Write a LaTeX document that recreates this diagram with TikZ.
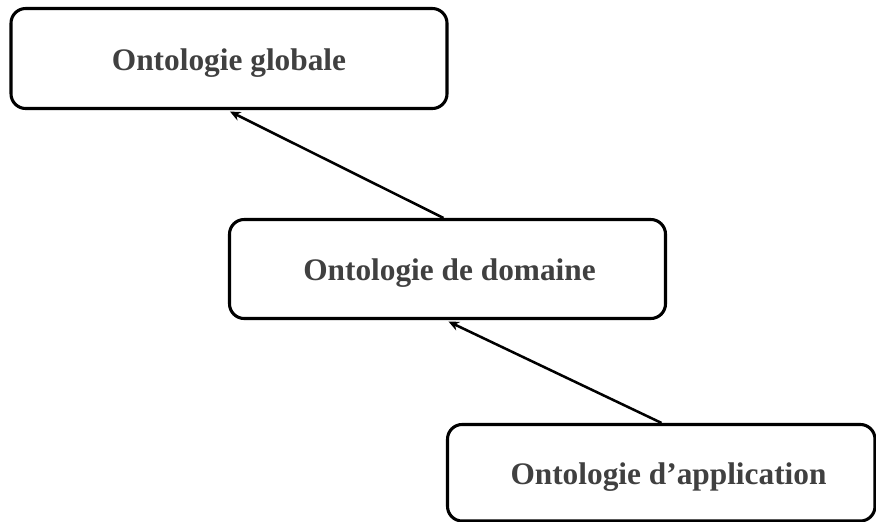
\documentclass[tikz,border=0pt]{standalone}
\usepackage{fontspec}
\setmainfont{Liberation Serif}
\usetikzlibrary{calc,arrows.meta}
\definecolor{labelgray}{HTML}{404040}
\tikzset{
  levelbox/.style={draw=black, line width=2.3pt, rounded corners=11pt, fill=white},
  levellabel/.style={text=labelgray, font=\fontsize{23.5}{28}\selectfont\bfseries, inner sep=0pt},
  linkarrow/.style={draw=black, line width=1.9pt, -{Stealth[length=8pt,width=7pt]}}
}
\begin{document}
\begin{tikzpicture}[x=0.75pt, y=-0.75pt]
  \useasboundingbox (0,0) rectangle (876,522);
  % the three levels of ontology
  \node[levelbox, minimum width=327pt, minimum height=75pt] (glob) at (229,58.5) {};
  \node[levelbox, minimum width=327pt, minimum height=74.25pt] (dom) at (447.5,269) {};
  \node[levelbox, minimum width=320.6pt, minimum height=72.4pt] (app) at (661.25,472.75) {};
  % labels
  \node[levellabel] (globtxt) at (229,63) {Ontologie globale};
  \node[levellabel] (domtxt) at (449.5,273) {Ontologie de domaine};
  \node[levellabel] (apptxt) at (668.5,477) {Ontologie d’application};
  % links between levels
  \draw[linkarrow] ($(dom.north west)+(215.5,0)$) -- ($(glob.south west)+(220.5,1.5)$);
  \draw[linkarrow] ($(app.north west)+(215.5,0)$) -- ($(dom.south west)+(220.5,1.5)$);
\end{tikzpicture}
\end{document}
